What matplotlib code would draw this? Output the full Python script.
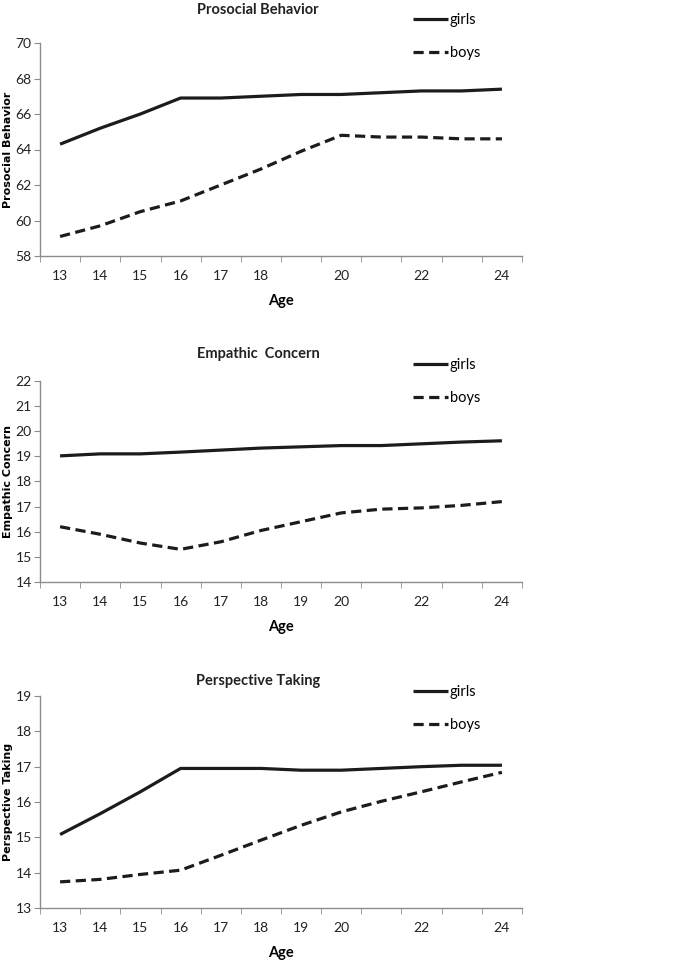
import matplotlib.pyplot as plt
import numpy as np

# categories on the x axis (21 and 23 have no label in the original)
ages = [13, 14, 15, 16, 17, 18, 19, 20, 21, 22, 23, 24]
labels_1 = ["13", "14", "15", "16", "17", "18", "", "20", "", "22", "", "24"]
labels_23 = ["13", "14", "15", "16", "17", "18", "19", "20", "", "22", "", "24"]

prosocial_girls = [64.3, 65.2, 66.0, 66.9, 66.9, 67.0, 67.1, 67.1, 67.2, 67.3, 67.3, 67.4]
prosocial_boys = [59.1, 59.7, 60.5, 61.1, 62.0, 62.9, 63.9, 64.8, 64.7, 64.7, 64.6, 64.6]

empathic_girls = [19.02, 19.1, 19.1, 19.17, 19.25, 19.33, 19.38, 19.43, 19.43, 19.5, 19.57, 19.62]
empathic_boys = [16.2, 15.9, 15.55, 15.3, 15.6, 16.05, 16.4, 16.75, 16.9, 16.95, 17.05, 17.2]

perspective_girls = [15.08, 15.67, 16.29, 16.95, 16.95, 16.95, 16.9, 16.9, 16.95, 17.0, 17.04, 17.04]
perspective_boys = [13.74, 13.81, 13.95, 14.07, 14.49, 14.92, 15.34, 15.72, 16.02, 16.29, 16.57, 16.84]

panels = [
    # title, ylabel, girls, boys, ylim, yticks, xlabels, axes box (px), title y, legend y
    ("Prosocial Behavior", "Prosocial Behavior", prosocial_girls, prosocial_boys,
     (58, 70), np.arange(58, 71, 2), labels_1, (43, 256), 10, 0),
    ("Empathic  Concern", "Empathic Concern", empathic_girls, empathic_boys,
     (14, 22), np.arange(14, 23, 1), labels_23, (381, 582), 354, 345),
    ("Perspective Taking", "Perspective Taking", perspective_girls, perspective_boys,
     (13, 19), np.arange(13, 20, 1), labels_23, (696, 908), 681, 672),
]

W, H = 685, 963
fig = plt.figure(figsize=(W / 100, H / 100), dpi=100)
font = "Lato"
ink = "#1c1c1c"
axis_col = "#8c8c8c"

for title, ylab, girls, boys, ylim, yticks, xlabels, (top, bot), ty, ly in panels:
    ax = fig.add_axes([40 / W, 1 - bot / H, 482 / W, (bot - top) / H])
    xs = np.arange(len(ages))
    ax.plot(xs, girls, color=ink, lw=2.3, solid_capstyle="butt", label="girls")
    ax.plot(xs, boys, color=ink, lw=2.3, dashes=(3.2, 1.7), label="boys")
    ax.set_xlim(-0.5, len(ages) - 0.5)
    ax.set_ylim(*ylim)
    ax.set_yticks(yticks)
    ax.set_xticks(xs)
    ax.set_xticklabels(xlabels)
    ax.set_xticks(np.arange(-0.5, len(ages)), minor=True)
    ax.tick_params(axis="x", which="major", length=0, pad=10)
    ax.tick_params(axis="x", which="minor", length=4, color=axis_col, direction="out")
    ax.tick_params(axis="y", length=4, color=axis_col, pad=2)
    for lab in ax.get_xticklabels() + ax.get_yticklabels():
        lab.set_fontfamily(font)
        lab.set_fontsize(10)
        lab.set_color("#222222")
    for s in ["top", "right"]:
        ax.spines[s].set_visible(False)
    for s in ["left", "bottom"]:
        ax.spines[s].set_color(axis_col)
        ax.spines[s].set_linewidth(1)
    ax.set_xlabel("Age", fontfamily=font, fontweight="bold", fontsize=10.5, labelpad=9)
    ax.set_ylabel(ylab, fontfamily="DejaVu Sans", fontweight="bold", fontsize=8)
    ax.yaxis.set_label_coords(-0.056, 0.5)
    fig.text(258 / W, 1 - ty / H, title, ha="center", va="center",
             fontfamily=font, fontweight="bold", fontsize=10.5, color="#222222")
    ax.legend(loc="upper left", bbox_to_anchor=(400 / W, 1 - ly / H),
              bbox_transform=fig.transFigure, frameon=False,
              handlelength=2.4, handletextpad=0.1, labelspacing=1.3,
              prop={"family": font, "size": 10.5})

fig.savefig("out.png", dpi=100)
